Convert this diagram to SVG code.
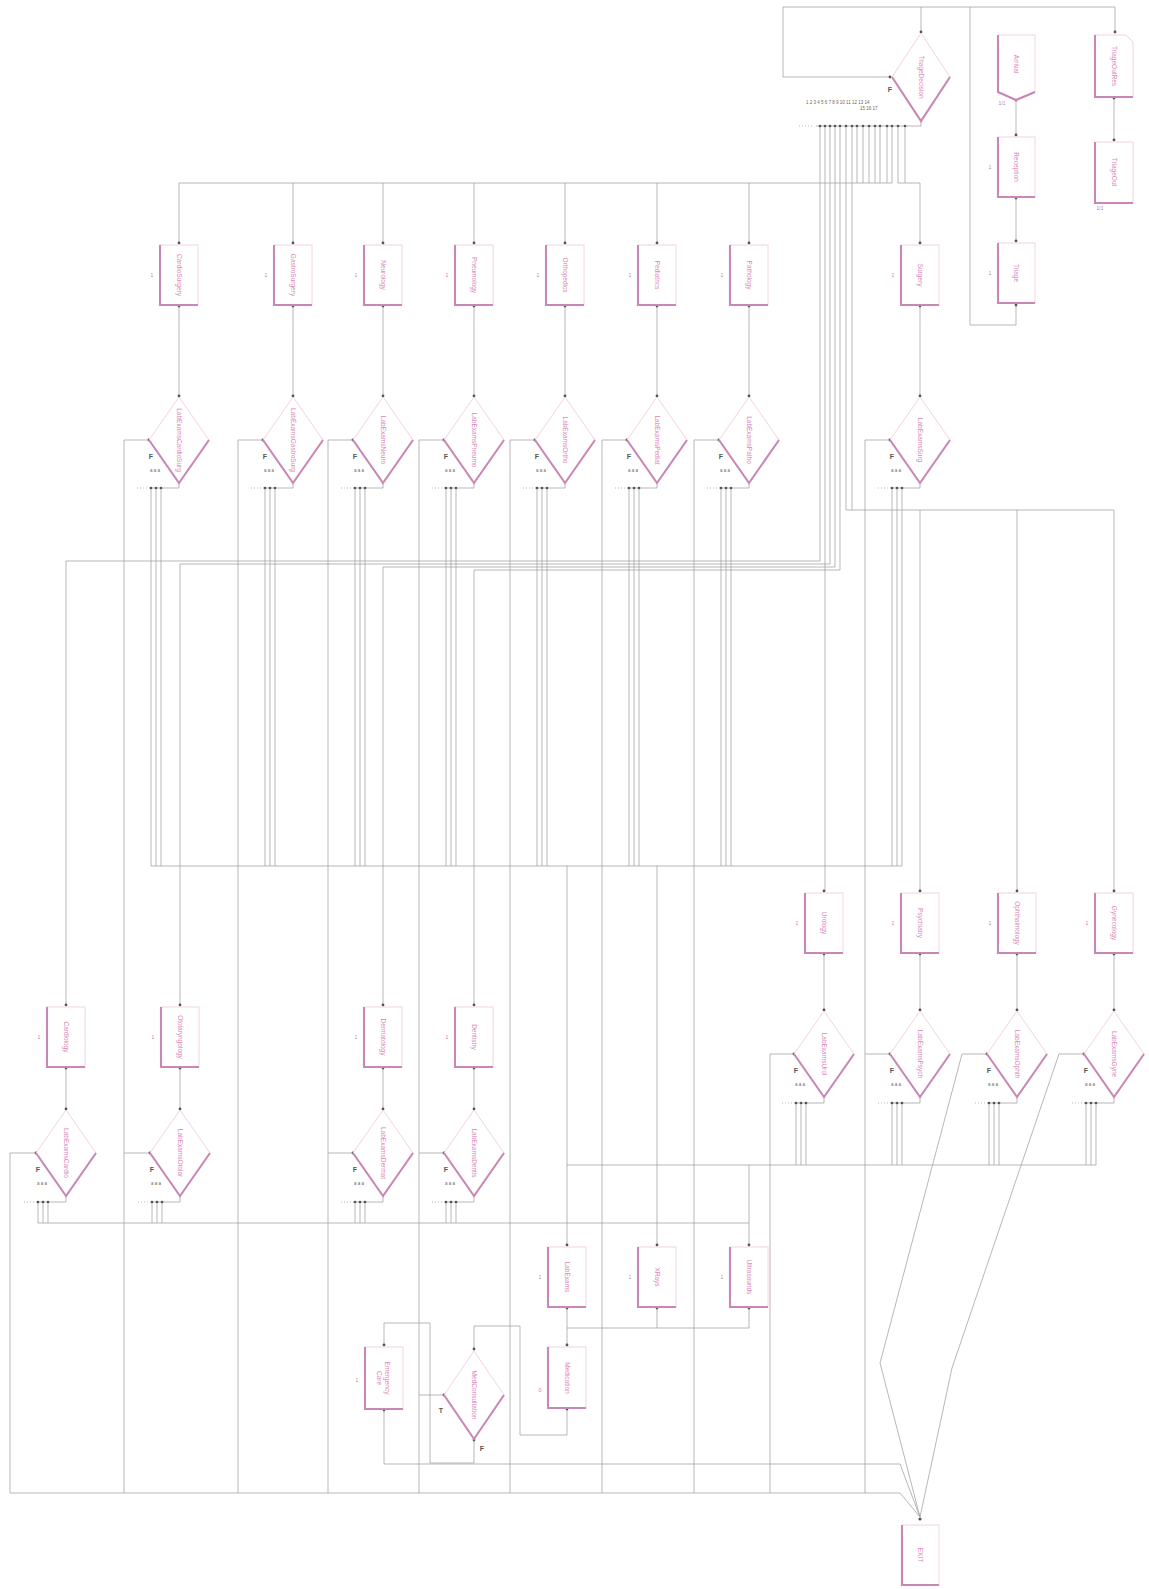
<svg xmlns="http://www.w3.org/2000/svg" width="1149" height="1589" viewBox="0 0 1149 1589">
<style>
.bg{fill:#ffffff}
.ln{fill:none;stroke:#a4a4a4;stroke-width:0.8}
.dl{fill:none;stroke:#a4a4a4;stroke-width:0.8;stroke-dasharray:1 2}
.rb{fill:#ffffff;stroke:#f2d2e3;stroke-width:1}
.rt{fill:none;stroke:#c987b5;stroke-width:2.1}
.lb{font-family:"Liberation Sans",Arial,sans-serif;font-size:6.5px;fill:#d886b9;text-anchor:middle;dominant-baseline:middle}
.one{font-family:"Liberation Sans",Arial,sans-serif;font-size:5px;fill:#c080a8;text-anchor:middle}
.f{font-family:"Liberation Sans",Arial,sans-serif;font-size:7px;font-weight:bold;fill:#555;text-anchor:middle}
.sm{font-family:"Liberation Sans",Arial,sans-serif;font-size:4.5px;fill:#666}
.dt{fill:#555}
</style>
<rect class="bg" x="0" y="0" width="1149" height="1589"/>

<g id="connectors">
<path class="ln" d="M1016 305V325H970V7H783V77H890"/>
<path class="ln" d="M970 7H1115V32"/>
<path class="ln" d="M921 7V32"/>
<path class="ln" d="M1016 100V135"/>
<path class="ln" d="M1016 198V241"/>
<path class="ln" d="M1114 98V140"/>
<path class="ln" d="M921 121V126H816"/>
<path class="dl" d="M799 126H814"/>
<path class="ln" d="M820 126V561H66V1005"/>
<path class="ln" d="M825 126V891"/>
<path class="ln" d="M830 126V564H180V1005"/>
<path class="ln" d="M835 126V567H383V1005"/>
<path class="ln" d="M840 126V570H474V1005"/>
<path class="ln" d="M846 126V510H1114V891"/>
<path class="ln" d="M852 126V510"/>
<path class="ln" d="M920 510V891"/>
<path class="ln" d="M1017 510V891"/>
<path class="ln" d="M857 126V183M863 126V183M869 126V183M875 126V183M880 126V183M887 126V183"/>
<path class="ln" d="M892 126V183H179"/>
<path class="ln" d="M898 126V183H920V243"/>
<path class="ln" d="M905 126V183"/>
<path class="ln" d="M179 183V243M293 183V243M383 183V243M474 183V243M565 183V243M657 183V243M749 183V243"/>
<path class="ln" d="M179 306V396M293 306V396M383 306V396M474 306V396M565 306V396M657 306V396M749 306V396M920 306V396"/>
<path class="ln" d="M149 488H179V483M263 488H293V483M353 488H383V483M444 488H474V483M535 488H565V483M627 488H657V483M719 488H749V483M890 488H920V483"/>
<path class="dl" d="M137 488H148M251 488H262M341 488H352M432 488H443M523 488H534M615 488H626M707 488H718M878 488H889"/>
<path class="ln" d="M151 488V866M156 488V866M161 488V866M265 488V866M270 488V866M275 488V866M355 488V866M360 488V866M365 488V866M446 488V866M451 488V866M456 488V866M537 488V866M542 488V866M547 488V866M629 488V866M634 488V866M639 488V866M721 488V866M726 488V866M731 488V866M892 488V866M897 488V866M902 488V866"/>
<path class="ln" d="M151 866H902"/>
<path class="ln" d="M149 440H124V1493M263 440H238V1493M353 440H328V1493M444 440H419V1493M535 440H510V1493M627 440H602V1493M719 440H694V1493M890 440H865V1493"/>
<path class="ln" d="M66 1068V1109M180 1068V1109M383 1068V1109M474 1068V1109"/>
<path class="ln" d="M36 1202H66V1196M150 1202H180V1196M353 1202H383V1196M444 1202H474V1196"/>
<path class="dl" d="M24 1202H35M138 1202H149M341 1202H352M432 1202H443"/>
<path class="ln" d="M38 1202V1223M43 1202V1223M48 1202V1223M152 1202V1223M157 1202V1223M162 1202V1223M355 1202V1223M360 1202V1223M365 1202V1223M446 1202V1223M451 1202V1223M456 1202V1223"/>
<path class="ln" d="M38 1223H749"/>
<path class="ln" d="M36 1153H10V1493M150 1153H124M353 1153H328M444 1153H419"/>
<path class="ln" d="M824 954V1010M920 954V1010M1017 954V1010M1114 954V1010"/>
<path class="ln" d="M794 1103H824V1097M890 1103H920V1097M987 1103H1017V1097M1084 1103H1114V1097"/>
<path class="dl" d="M782 1103H793M878 1103H889M975 1103H986M1072 1103H1083"/>
<path class="ln" d="M796 1103V1165M801 1103V1165M806 1103V1165M892 1103V1165M897 1103V1165M902 1103V1165M989 1103V1165M994 1103V1165M999 1103V1165M1086 1103V1165M1091 1103V1165M1096 1103V1165"/>
<path class="ln" d="M567 1165H1096"/>
<path class="ln" d="M794 1054H770V1493M890 1054H865"/>
<path class="ln" d="M987 1054H962L880 1363L920 1517"/>
<path class="ln" d="M1084 1054H1059L952 1368L920 1517"/>
<path class="ln" d="M567 866V1245M657 866V1245M749 1165V1245"/>
<path class="ln" d="M567 1308V1345"/>
<path class="ln" d="M657 1308V1328H567"/>
<path class="ln" d="M749 1308V1328H657"/>
<path class="ln" d="M567 1409V1435H520V1326H474V1349"/>
<path class="ln" d="M444 1395H419"/>
<path class="ln" d="M474 1440V1463H430V1323H384V1345"/>
<path class="ln" d="M384 1410V1464H900L920 1517"/>
<path class="ln" d="M10 1493H900L920 1517"/>
</g>

<g id="dots">
<circle class="dt" cx="921" cy="32" r="1.4"/><circle class="dt" cx="1115" cy="32" r="1.4"/><circle class="dt" cx="890" cy="77" r="1.4"/>
<circle class="dt" cx="1016" cy="100" r="1.4"/><circle class="dt" cx="1016" cy="135" r="1.4"/><circle class="dt" cx="1016" cy="198" r="1.4"/><circle class="dt" cx="1016" cy="241" r="1.4"/><circle class="dt" cx="1016" cy="305" r="1.4"/>
<circle class="dt" cx="1114" cy="98" r="1.4"/><circle class="dt" cx="1114" cy="140" r="1.4"/>
<g fill="#555">
<circle cx="820" cy="126" r="1.3"/><circle cx="825" cy="126" r="1.3"/><circle cx="830" cy="126" r="1.3"/><circle cx="835" cy="126" r="1.3"/><circle cx="840" cy="126" r="1.3"/><circle cx="846" cy="126" r="1.3"/><circle cx="852" cy="126" r="1.3"/><circle cx="857" cy="126" r="1.3"/><circle cx="863" cy="126" r="1.3"/><circle cx="869" cy="126" r="1.3"/><circle cx="875" cy="126" r="1.3"/><circle cx="880" cy="126" r="1.3"/><circle cx="887" cy="126" r="1.3"/><circle cx="892" cy="126" r="1.3"/><circle cx="898" cy="126" r="1.3"/><circle cx="905" cy="126" r="1.3"/>
<circle cx="179" cy="243" r="1.4"/><circle cx="293" cy="243" r="1.4"/><circle cx="383" cy="243" r="1.4"/><circle cx="474" cy="243" r="1.4"/><circle cx="565" cy="243" r="1.4"/><circle cx="657" cy="243" r="1.4"/><circle cx="749" cy="243" r="1.4"/><circle cx="920" cy="243" r="1.4"/>
<circle cx="179" cy="306" r="1.4"/><circle cx="293" cy="306" r="1.4"/><circle cx="383" cy="306" r="1.4"/><circle cx="474" cy="306" r="1.4"/><circle cx="565" cy="306" r="1.4"/><circle cx="657" cy="306" r="1.4"/><circle cx="749" cy="306" r="1.4"/><circle cx="920" cy="306" r="1.4"/>
<circle cx="179" cy="396" r="1.4"/><circle cx="293" cy="396" r="1.4"/><circle cx="383" cy="396" r="1.4"/><circle cx="474" cy="396" r="1.4"/><circle cx="565" cy="396" r="1.4"/><circle cx="657" cy="396" r="1.4"/><circle cx="749" cy="396" r="1.4"/><circle cx="920" cy="396" r="1.4"/>
<circle cx="149" cy="440" r="1.4"/><circle cx="263" cy="440" r="1.4"/><circle cx="353" cy="440" r="1.4"/><circle cx="444" cy="440" r="1.4"/><circle cx="535" cy="440" r="1.4"/><circle cx="627" cy="440" r="1.4"/><circle cx="719" cy="440" r="1.4"/><circle cx="890" cy="440" r="1.4"/>
<circle cx="151" cy="488" r="1.3"/><circle cx="156" cy="488" r="1.3"/><circle cx="161" cy="488" r="1.3"/><circle cx="265" cy="488" r="1.3"/><circle cx="270" cy="488" r="1.3"/><circle cx="275" cy="488" r="1.3"/><circle cx="355" cy="488" r="1.3"/><circle cx="360" cy="488" r="1.3"/><circle cx="365" cy="488" r="1.3"/><circle cx="446" cy="488" r="1.3"/><circle cx="451" cy="488" r="1.3"/><circle cx="456" cy="488" r="1.3"/><circle cx="537" cy="488" r="1.3"/><circle cx="542" cy="488" r="1.3"/><circle cx="547" cy="488" r="1.3"/><circle cx="629" cy="488" r="1.3"/><circle cx="634" cy="488" r="1.3"/><circle cx="639" cy="488" r="1.3"/><circle cx="721" cy="488" r="1.3"/><circle cx="726" cy="488" r="1.3"/><circle cx="731" cy="488" r="1.3"/><circle cx="892" cy="488" r="1.3"/><circle cx="897" cy="488" r="1.3"/><circle cx="902" cy="488" r="1.3"/>
<circle cx="66" cy="1005" r="1.4"/><circle cx="180" cy="1005" r="1.4"/><circle cx="383" cy="1005" r="1.4"/><circle cx="474" cy="1005" r="1.4"/>
<circle cx="66" cy="1068" r="1.4"/><circle cx="180" cy="1068" r="1.4"/><circle cx="383" cy="1068" r="1.4"/><circle cx="474" cy="1068" r="1.4"/>
<circle cx="66" cy="1109" r="1.4"/><circle cx="180" cy="1109" r="1.4"/><circle cx="383" cy="1109" r="1.4"/><circle cx="474" cy="1109" r="1.4"/>
<circle cx="36" cy="1153" r="1.4"/><circle cx="150" cy="1153" r="1.4"/><circle cx="353" cy="1153" r="1.4"/><circle cx="444" cy="1153" r="1.4"/>
<circle cx="38" cy="1202" r="1.3"/><circle cx="43" cy="1202" r="1.3"/><circle cx="48" cy="1202" r="1.3"/><circle cx="152" cy="1202" r="1.3"/><circle cx="157" cy="1202" r="1.3"/><circle cx="162" cy="1202" r="1.3"/><circle cx="355" cy="1202" r="1.3"/><circle cx="360" cy="1202" r="1.3"/><circle cx="365" cy="1202" r="1.3"/><circle cx="446" cy="1202" r="1.3"/><circle cx="451" cy="1202" r="1.3"/><circle cx="456" cy="1202" r="1.3"/>
<circle cx="824" cy="891" r="1.4"/><circle cx="920" cy="891" r="1.4"/><circle cx="1017" cy="891" r="1.4"/><circle cx="1114" cy="891" r="1.4"/>
<circle cx="824" cy="954" r="1.4"/><circle cx="920" cy="954" r="1.4"/><circle cx="1017" cy="954" r="1.4"/><circle cx="1114" cy="954" r="1.4"/>
<circle cx="824" cy="1010" r="1.4"/><circle cx="920" cy="1010" r="1.4"/><circle cx="1017" cy="1010" r="1.4"/><circle cx="1114" cy="1010" r="1.4"/>
<circle cx="794" cy="1054" r="1.4"/><circle cx="890" cy="1054" r="1.4"/><circle cx="987" cy="1054" r="1.4"/><circle cx="1084" cy="1054" r="1.4"/>
<circle cx="796" cy="1103" r="1.3"/><circle cx="801" cy="1103" r="1.3"/><circle cx="806" cy="1103" r="1.3"/><circle cx="892" cy="1103" r="1.3"/><circle cx="897" cy="1103" r="1.3"/><circle cx="902" cy="1103" r="1.3"/><circle cx="989" cy="1103" r="1.3"/><circle cx="994" cy="1103" r="1.3"/><circle cx="999" cy="1103" r="1.3"/><circle cx="1086" cy="1103" r="1.3"/><circle cx="1091" cy="1103" r="1.3"/><circle cx="1096" cy="1103" r="1.3"/>
<circle cx="567" cy="1245" r="1.4"/><circle cx="657" cy="1245" r="1.4"/><circle cx="749" cy="1245" r="1.4"/>
<circle cx="567" cy="1308" r="1.4"/><circle cx="657" cy="1308" r="1.4"/><circle cx="749" cy="1308" r="1.4"/>
<circle cx="567" cy="1345" r="1.4"/><circle cx="567" cy="1409" r="1.4"/><circle cx="474" cy="1349" r="1.4"/><circle cx="444" cy="1395" r="1.4"/><circle cx="474" cy="1440" r="1.4"/>
<circle cx="384" cy="1345" r="1.4"/><circle cx="384" cy="1410" r="1.4"/><circle cx="920" cy="1519" r="1.6"/>
</g>
</g>

<g id="triage-decision">
<polygon class="rb" points="921,33 950,77 921,121 892,77"/>
<path class="rt" d="M892 77L921 121L950 77"/>
<text class="lb" transform="translate(921 77) rotate(90)">TriageDecision</text>
<text class="f" x="890" y="92">F</text>
<text class="sm" x="806" y="104">1 2 3 4 5 6 7 8 9 10 11 12 13 14</text>
<text class="sm" x="860" y="110">15 16 17</text>
</g>
<g id="arrival">
<path class="rb" d="M998 35H1035V92L1016 100L998 92Z"/>
<path class="rt" d="M998 35V92L1016 100L1035 92"/>
<text class="lb" transform="translate(1016 64) rotate(90)">Arrival</text>
<text class="one" x="1002" y="105">1/1</text>
</g>
<g id="reception">
<rect class="rb" x="998" y="137" width="37" height="60"/>
<path class="rt" d="M998 137V197H1035"/>
<text class="lb" transform="translate(1016 167) rotate(90)">Reception</text>
<text class="one" x="990" y="169">1</text>
</g>
<g id="triage">
<rect class="rb" x="998" y="243" width="37" height="60"/>
<path class="rt" d="M998 243V303H1035"/>
<text class="lb" transform="translate(1016 273) rotate(90)">Triage</text>
<text class="one" x="990" y="275">1</text>
</g>
<g id="triage-out-res">
<path class="rb" d="M1095 35H1126L1133 42V97H1095Z"/>
<path class="rt" d="M1095 35V97H1133"/>
<text class="lb" transform="translate(1114 66) rotate(90)">TriageOutRes</text>
</g>
<g id="triage-out">
<rect class="rb" x="1095" y="142" width="38" height="61"/>
<path class="rt" d="M1095 142V203H1133"/>
<text class="lb" transform="translate(1114 172) rotate(90)">TriageOut</text>
<text class="one" x="1100" y="210">1/1</text>
</g>

<g id="n-cardiosurgery"><rect class="rb" x="160" y="245" width="38" height="60"/><path class="rt" d="M160 245V305H198"/><text class="lb" transform="translate(179 275) rotate(90)">CardioSurgery</text><text class="one" x="152" y="277">1</text></g>
<g id="n-gastrosurgery"><rect class="rb" x="274" y="245" width="38" height="60"/><path class="rt" d="M274 245V305H312"/><text class="lb" transform="translate(293 275) rotate(90)">GastroSurgery</text><text class="one" x="266" y="277">1</text></g>
<g id="n-neurology"><rect class="rb" x="364" y="245" width="38" height="60"/><path class="rt" d="M364 245V305H402"/><text class="lb" transform="translate(383 275) rotate(90)">Neurology</text><text class="one" x="356" y="277">1</text></g>
<g id="n-pneumology"><rect class="rb" x="455" y="245" width="38" height="60"/><path class="rt" d="M455 245V305H493"/><text class="lb" transform="translate(474 275) rotate(90)">Pneumology</text><text class="one" x="447" y="277">1</text></g>
<g id="n-orthopedics"><rect class="rb" x="546" y="245" width="38" height="60"/><path class="rt" d="M546 245V305H584"/><text class="lb" transform="translate(565 275) rotate(90)">Orthopedics</text><text class="one" x="538" y="277">1</text></g>
<g id="n-pediatrics"><rect class="rb" x="638" y="245" width="38" height="60"/><path class="rt" d="M638 245V305H676"/><text class="lb" transform="translate(657 275) rotate(90)">Pediatrics</text><text class="one" x="630" y="277">1</text></g>
<g id="n-pathology"><rect class="rb" x="730" y="245" width="38" height="60"/><path class="rt" d="M730 245V305H768"/><text class="lb" transform="translate(749 275) rotate(90)">Pathology</text><text class="one" x="722" y="277">1</text></g>
<g id="n-surgery"><rect class="rb" x="901" y="245" width="38" height="60"/><path class="rt" d="M901 245V305H939"/><text class="lb" transform="translate(920 275) rotate(90)">Surgery</text><text class="one" x="893" y="277">1</text></g>

<g id="d-cardiosurgery"><polygon class="rb" points="179,397 209,440 179,483 149,440"/><path class="rt" d="M149 440L179 483L209 440"/><text class="lb" transform="translate(179 440) rotate(90)">LabExamsCardioSurg</text><text class="f" x="151" y="459">F</text><text class="sm" x="150" y="472">a a a</text></g>
<g id="d-gastrosurgery"><polygon class="rb" points="293,397 323,440 293,483 263,440"/><path class="rt" d="M263 440L293 483L323 440"/><text class="lb" transform="translate(293 440) rotate(90)">LabExamsGastroSurg</text><text class="f" x="265" y="459">F</text><text class="sm" x="264" y="472">a a a</text></g>
<g id="d-neurology"><polygon class="rb" points="383,397 413,440 383,483 353,440"/><path class="rt" d="M353 440L383 483L413 440"/><text class="lb" transform="translate(383 440) rotate(90)">LabExamsNeuro</text><text class="f" x="355" y="459">F</text><text class="sm" x="354" y="472">a a a</text></g>
<g id="d-pneumology"><polygon class="rb" points="474,397 504,440 474,483 444,440"/><path class="rt" d="M444 440L474 483L504 440"/><text class="lb" transform="translate(474 440) rotate(90)">LabExamsPneumo</text><text class="f" x="446" y="459">F</text><text class="sm" x="445" y="472">a a a</text></g>
<g id="d-orthopedics"><polygon class="rb" points="565,397 595,440 565,483 535,440"/><path class="rt" d="M535 440L565 483L595 440"/><text class="lb" transform="translate(565 440) rotate(90)">LabExamsOrtho</text><text class="f" x="537" y="459">F</text><text class="sm" x="536" y="472">a a a</text></g>
<g id="d-pediatrics"><polygon class="rb" points="657,397 687,440 657,483 627,440"/><path class="rt" d="M627 440L657 483L687 440"/><text class="lb" transform="translate(657 440) rotate(90)">LabExamsPediat</text><text class="f" x="629" y="459">F</text><text class="sm" x="628" y="472">a a a</text></g>
<g id="d-pathology"><polygon class="rb" points="749,397 779,440 749,483 719,440"/><path class="rt" d="M719 440L749 483L779 440"/><text class="lb" transform="translate(749 440) rotate(90)">LabExamsPatho</text><text class="f" x="721" y="459">F</text><text class="sm" x="720" y="472">a a a</text></g>
<g id="d-surgery"><polygon class="rb" points="920,397 950,440 920,483 890,440"/><path class="rt" d="M890 440L920 483L950 440"/><text class="lb" transform="translate(920 440) rotate(90)">LabExamsSurg</text><text class="f" x="892" y="459">F</text><text class="sm" x="891" y="472">a a a</text></g>

<g id="n-cardiology"><rect class="rb" x="47" y="1007" width="38" height="60"/><path class="rt" d="M47 1007V1067H85"/><text class="lb" transform="translate(66 1037) rotate(90)">Cardiology</text><text class="one" x="39" y="1039">1</text></g>
<g id="n-otolaryngology"><rect class="rb" x="161" y="1007" width="38" height="60"/><path class="rt" d="M161 1007V1067H199"/><text class="lb" transform="translate(180 1037) rotate(90)">Otolaryngology</text><text class="one" x="153" y="1039">1</text></g>
<g id="n-dermatology"><rect class="rb" x="364" y="1007" width="38" height="60"/><path class="rt" d="M364 1007V1067H402"/><text class="lb" transform="translate(383 1037) rotate(90)">Dermatology</text><text class="one" x="356" y="1039">1</text></g>
<g id="n-dentistry"><rect class="rb" x="455" y="1007" width="38" height="60"/><path class="rt" d="M455 1007V1067H493"/><text class="lb" transform="translate(474 1037) rotate(90)">Dentistry</text><text class="one" x="447" y="1039">1</text></g>
<g id="d-cardiology"><polygon class="rb" points="66,1110 96,1153 66,1196 36,1153"/><path class="rt" d="M36 1153L66 1196L96 1153"/><text class="lb" transform="translate(66 1153) rotate(90)">LabExamsCardio</text><text class="f" x="38" y="1172">F</text><text class="sm" x="37" y="1185">a a a</text></g>
<g id="d-otolaryngology"><polygon class="rb" points="180,1110 210,1153 180,1196 150,1153"/><path class="rt" d="M150 1153L180 1196L210 1153"/><text class="lb" transform="translate(180 1153) rotate(90)">LabExamsOtolar</text><text class="f" x="152" y="1172">F</text><text class="sm" x="151" y="1185">a a a</text></g>
<g id="d-dermatology"><polygon class="rb" points="383,1110 413,1153 383,1196 353,1153"/><path class="rt" d="M353 1153L383 1196L413 1153"/><text class="lb" transform="translate(383 1153) rotate(90)">LabExamsDermat</text><text class="f" x="355" y="1172">F</text><text class="sm" x="354" y="1185">a a a</text></g>
<g id="d-dentistry"><polygon class="rb" points="474,1110 504,1153 474,1196 444,1153"/><path class="rt" d="M444 1153L474 1196L504 1153"/><text class="lb" transform="translate(474 1153) rotate(90)">LabExamsDentis</text><text class="f" x="446" y="1172">F</text><text class="sm" x="445" y="1185">a a a</text></g>

<g id="n-urology"><rect class="rb" x="805" y="893" width="38" height="60"/><path class="rt" d="M805 893V953H843"/><text class="lb" transform="translate(824 923) rotate(90)">Urology</text><text class="one" x="797" y="925">1</text></g>
<g id="n-psychiatry"><rect class="rb" x="901" y="893" width="38" height="60"/><path class="rt" d="M901 893V953H939"/><text class="lb" transform="translate(920 923) rotate(90)">Psychiatry</text><text class="one" x="893" y="925">1</text></g>
<g id="n-ophthalmology"><rect class="rb" x="998" y="893" width="38" height="60"/><path class="rt" d="M998 893V953H1036"/><text class="lb" transform="translate(1017 923) rotate(90)">Ophthalmology</text><text class="one" x="990" y="925">1</text></g>
<g id="n-gynecology"><rect class="rb" x="1095" y="893" width="38" height="60"/><path class="rt" d="M1095 893V953H1133"/><text class="lb" transform="translate(1114 923) rotate(90)">Gynecology</text><text class="one" x="1087" y="925">1</text></g>
<g id="d-urology"><polygon class="rb" points="824,1011 854,1054 824,1097 794,1054"/><path class="rt" d="M794 1054L824 1097L854 1054"/><text class="lb" transform="translate(824 1054) rotate(90)">LabExamsUrol</text><text class="f" x="796" y="1073">F</text><text class="sm" x="795" y="1086">a a a</text></g>
<g id="d-psychiatry"><polygon class="rb" points="920,1011 950,1054 920,1097 890,1054"/><path class="rt" d="M890 1054L920 1097L950 1054"/><text class="lb" transform="translate(920 1054) rotate(90)">LabExamsPsych</text><text class="f" x="892" y="1073">F</text><text class="sm" x="891" y="1086">a a a</text></g>
<g id="d-ophthalmology"><polygon class="rb" points="1017,1011 1047,1054 1017,1097 987,1054"/><path class="rt" d="M987 1054L1017 1097L1047 1054"/><text class="lb" transform="translate(1017 1054) rotate(90)">LabExamsOphth</text><text class="f" x="989" y="1073">F</text><text class="sm" x="988" y="1086">a a a</text></g>
<g id="d-gynecology"><polygon class="rb" points="1114,1011 1144,1054 1114,1097 1084,1054"/><path class="rt" d="M1084 1054L1114 1097L1144 1054"/><text class="lb" transform="translate(1114 1054) rotate(90)">LabExamsGyne</text><text class="f" x="1086" y="1073">F</text><text class="sm" x="1085" y="1086">a a a</text></g>

<g id="n-labexams"><rect class="rb" x="548" y="1247" width="38" height="60"/><path class="rt" d="M548 1247V1307H586"/><text class="lb" transform="translate(567 1277) rotate(90)">LabExams</text><text class="one" x="540" y="1279">1</text></g>
<g id="n-xrays"><rect class="rb" x="638" y="1247" width="38" height="60"/><path class="rt" d="M638 1247V1307H676"/><text class="lb" transform="translate(657 1277) rotate(90)">XRays</text><text class="one" x="630" y="1279">1</text></g>
<g id="n-ultrasounds"><rect class="rb" x="730" y="1247" width="38" height="60"/><path class="rt" d="M730 1247V1307H768"/><text class="lb" transform="translate(749 1277) rotate(90)">Ultrasounds</text><text class="one" x="722" y="1279">1</text></g>
<g id="n-medication"><rect class="rb" x="548" y="1347" width="38" height="61"/><path class="rt" d="M548 1347V1408H586"/><text class="lb" transform="translate(567 1378) rotate(90)">Medication</text><text class="one" x="540" y="1392">0</text></g>
<g id="d-medconsultation"><polygon class="rb" points="474,1351 504,1395 474,1439 444,1395"/><path class="rt" d="M444 1395L474 1439L504 1395"/><text class="lb" transform="translate(474 1395) rotate(90)">MedConsultation</text><text class="f" x="441" y="1413">T</text><text class="f" x="482" y="1451">F</text></g>
<g id="n-emergencycare"><rect class="rb" x="365" y="1347" width="38" height="62"/><path class="rt" d="M365 1347V1409H403"/><text class="lb" transform="translate(387 1378) rotate(90)">Emergency</text><text class="lb" transform="translate(379 1378) rotate(90)">Care</text><text class="one" x="357" y="1382">1</text></g>
<g id="n-exit"><rect class="rb" x="902" y="1525" width="37" height="60"/><path class="rt" d="M902 1525V1585H939"/><text class="lb" transform="translate(920 1555) rotate(90)">EXIT</text></g>
</svg>
